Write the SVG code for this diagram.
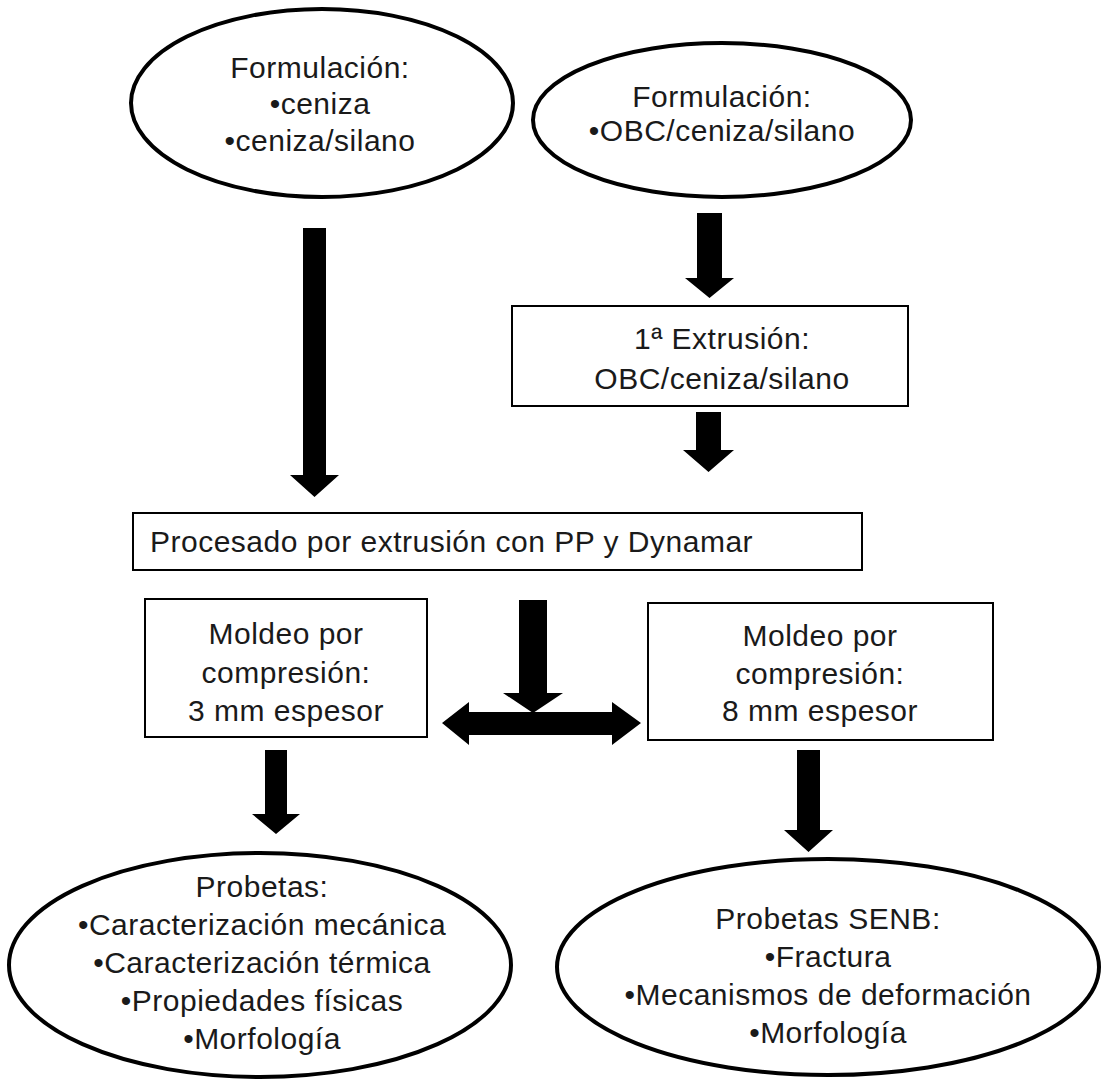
<svg xmlns="http://www.w3.org/2000/svg" width="1102" height="1080" viewBox="0 0 1102 1080">
<style>
.ell{fill:#fff;stroke:#000;stroke-width:4}
.box{fill:#fff;stroke:#000;stroke-width:2}
text{font-family:"Liberation Sans",Arial,sans-serif;font-size:30px;letter-spacing:0.5px;fill:#1a1a1a;text-anchor:middle}
.arr{fill:#000;stroke:none}
</style>
<rect width="1102" height="1080" fill="#fff"/>
<g id="connectors">
<polygon class="arr" points="303,228 326,228 326,475 339,475 314.5,497 290,475 303,475"/>
<polygon class="arr" points="697,213 722,213 722,278 734,278 709.5,298 685,278 697,278"/>
<polygon class="arr" points="696,412 721,412 721,450 734,450 708.5,472 683,450 696,450"/>
<polygon class="arr" points="519,600 547,600 547,693 563,693 533,713 503,693 519,693"/>
<polygon class="arr" points="442,723 469,702 469,712 612,712 612,702 641,723 612,745 612,735 469,735 469,745"/>
<polygon class="arr" points="265,750 287,750 287,814 300,814 276,834 252,814 265,814"/>
<polygon class="arr" points="797,750 820,750 820,830 833,830 808.5,852 784,830 797,830"/>
</g>
<g id="n1">
<ellipse class="ell" cx="322" cy="103" rx="191" ry="94"/>
<text x="320" y="78">Formulación:</text>
<text x="320" y="114">•ceniza</text>
<text x="320" y="151">•ceniza/silano</text>
</g>
<g id="n2">
<ellipse class="ell" cx="722" cy="120" rx="189" ry="77"/>
<text x="722" y="107">Formulación:</text>
<text x="722" y="141">•OBC/ceniza/silano</text>
</g>
<g id="n3">
<rect class="box" x="512" y="306" width="396" height="100"/>
<text x="722" y="349">1ª Extrusión:</text>
<text x="722" y="389">OBC/ceniza/silano</text>
</g>
<g id="n4">
<rect class="box" x="133" y="513" width="729" height="57"/>
<text x="150" y="552" style="text-anchor:start">Procesado por extrusión con PP y Dynamar</text>
</g>
<g id="n5">
<rect class="box" x="145" y="599" width="282" height="138"/>
<text x="286" y="644">Moldeo por</text>
<text x="286" y="683">compresión:</text>
<text x="286" y="721">3 mm espesor</text>
</g>
<g id="n6">
<rect class="box" x="648" y="603" width="345" height="137"/>
<text x="820" y="646">Moldeo por</text>
<text x="820" y="684">compresión:</text>
<text x="820" y="721">8 mm espesor</text>
</g>
<g id="n7">
<ellipse class="ell" cx="260" cy="965" rx="251" ry="112"/>
<text x="262" y="897">Probetas:</text>
<text x="262" y="935">•Caracterización mecánica</text>
<text x="262" y="973">•Caracterización térmica</text>
<text x="262" y="1011">•Propiedades físicas</text>
<text x="262" y="1049">•Morfología</text>
</g>
<g id="n8">
<ellipse class="ell" cx="828" cy="967" rx="271" ry="108"/>
<text x="828" y="929">Probetas SENB:</text>
<text x="828" y="967">•Fractura</text>
<text x="828" y="1005">•Mecanismos de deformación</text>
<text x="828" y="1043">•Morfología</text>
</g>
</svg>
